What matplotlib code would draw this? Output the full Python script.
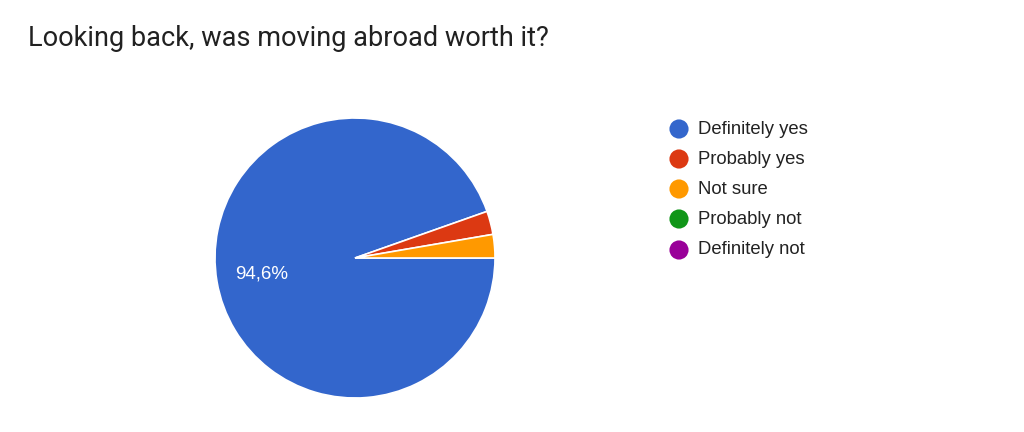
import matplotlib.pyplot as plt

labels = ["Definitely yes", "Probably yes", "Not sure", "Probably not", "Definitely not"]
values = [94.6, 2.7, 2.7, 0.0, 0.0]
colors = ["#3366cc", "#dc3912", "#ff9900", "#109618", "#990099"]
title = "Looking back, was moving abroad worth it?"

W, H = 1024, 432
fig = plt.figure(figsize=(W / 100, H / 100), dpi=100)
fig.patch.set_facecolor("white")

# pie axes, centre (355, 258) px, radius 140 px
cx, cy, r = 355, 258, 140
ax = fig.add_axes([(cx - r) / W, (H - cy - r) / H, 2 * r / W, 2 * r / H])

shown = [(v, c) for v, c in zip(values, colors) if v > 0]
vals = [s[0] for s in shown]
cols = [s[1] for s in shown]


def fmt(p):
    if p < 5:
        return ""
    return ("%.1f%%" % p).replace(".", ",")


wedges, texts, autotexts = ax.pie(vals, colors=cols, startangle=0, counterclock=False,
                                  radius=1, autopct=fmt, pctdistance=0.68,
                                  wedgeprops=dict(edgecolor="white", linewidth=1.2),
                                  textprops=dict(color="white", fontsize=13.5,
                                                 family="Liberation Sans"))
ax.set_xlim(-1, 1)
ax.set_ylim(-1, 1)
ax.set_aspect("equal")
ax.axis("off")

# overlay in pixel coordinates for title and legend
ov = fig.add_axes([0, 0, 1, 1])
ov.set_xlim(0, W)
ov.set_ylim(H, 0)
ov.axis("off")

ov.text(28, 46, title, fontsize=19.5, family="Roboto", color="#212121", va="baseline", ha="left")

row_y = [129, 159, 189, 219, 250]
for lab, col, y in zip(labels, colors, row_y):
    ov.scatter([679], [y], s=190, color=col, edgecolors="none")
    ov.text(698, y, lab, fontsize=13.3, family="Liberation Sans", color="#222222",
            va="center", ha="left")

fig.savefig("out.png", dpi=100, facecolor="white")
